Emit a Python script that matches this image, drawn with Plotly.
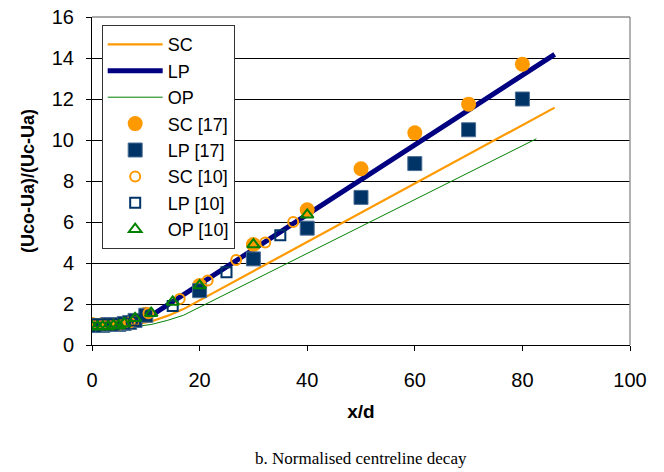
import plotly.graph_objects as go

# ---- Data ----
sc_line_x = [0, 8, 11, 14, 17, 86]
sc_line_y = [1.0, 1.0, 1.15, 1.42, 1.75, 11.58]
lp_line_x = [0, 6, 8, 10, 12, 86]
lp_line_y = [1.0, 1.0, 1.08, 1.3, 1.6, 14.18]
op_line_x = [0, 8, 11, 14, 17, 82.6]
op_line_y = [0.9, 0.9, 1.0, 1.2, 1.45, 10.06]

sc17_x = [0, 2, 4, 6, 8, 10, 20, 30, 40, 50, 60, 70, 80]
sc17_y = [1.0, 1.0, 1.0, 1.05, 1.2, 1.5, 2.9, 4.9, 6.6, 8.6, 10.35, 11.75, 13.7]
lp17_x = [0, 1, 2, 3, 4, 5, 6, 7, 8, 10, 20, 30, 40, 50, 60, 70, 80]
lp17_y = [0.95, 0.95, 0.95, 1.0, 1.0, 1.0, 1.05, 1.1, 1.2, 1.45, 2.65, 4.2, 5.7, 7.2, 8.85, 10.5, 12.0]
sc10_x = [0, 1, 2, 3, 4, 5, 6, 7, 8, 10.5, 16.3, 21.5, 26.8, 32.2, 37.4]
sc10_y = [1.0, 1.0, 1.0, 1.0, 1.0, 1.0, 1.05, 1.1, 1.2, 1.55, 2.25, 3.15, 4.15, 5.0, 6.0]
lp10_x = [0, 2, 4, 6, 8, 15, 25, 35]
lp10_y = [1.0, 1.0, 1.0, 1.05, 1.2, 1.9, 3.55, 5.35]
op10_x = [0, 1, 2, 3, 4, 5, 6, 8, 11, 15, 20, 30, 40]
op10_y = [0.9, 0.9, 0.9, 0.9, 0.95, 0.95, 1.05, 1.3, 1.55, 2.1, 2.9, 4.9, 6.35]

x_ticks = [0, 20, 40, 60, 80, 100]
y_ticks = [0, 2, 4, 6, 8, 10, 12, 14, 16]

ORANGE = "#FF9900"
NAVY = "#000080"
GREEN = "#008000"
DKBLUE = "#003366"
FONT = "Liberation Sans, Arial, sans-serif"

fig = go.Figure()
fig.add_trace(go.Scatter(x=sc_line_x, y=sc_line_y, mode="lines", name="SC",
                         line=dict(color=ORANGE, width=2.2)))
fig.add_trace(go.Scatter(x=lp_line_x, y=lp_line_y, mode="lines", name="LP",
                         line=dict(color=NAVY, width=5)))
fig.add_trace(go.Scatter(x=op_line_x, y=op_line_y, mode="lines", name="OP",
                         line=dict(color=GREEN, width=1)))
fig.add_trace(go.Scatter(x=sc17_x, y=sc17_y, mode="markers", name="SC [17]",
                         marker=dict(symbol="circle", size=15, color=ORANGE,
                                     line=dict(width=0))))
fig.add_trace(go.Scatter(x=lp17_x, y=lp17_y, mode="markers", name="LP [17]",
                         marker=dict(symbol="square", size=14, color=DKBLUE,
                                     line=dict(width=1, color="#4A6E94"))))
fig.add_trace(go.Scatter(x=sc10_x, y=sc10_y, mode="markers", name="SC [10]",
                         marker=dict(symbol="circle-open", size=10, color=ORANGE,
                                     line=dict(width=2, color=ORANGE))))
fig.add_trace(go.Scatter(x=lp10_x, y=lp10_y, mode="markers", name="LP [10]",
                         marker=dict(symbol="square-open", size=10, color=DKBLUE,
                                     line=dict(width=2, color=DKBLUE))))
fig.add_trace(go.Scatter(x=op10_x, y=op10_y, mode="markers", name="OP [10]",
                         marker=dict(symbol="triangle-up-open", size=11, color=GREEN,
                                     line=dict(width=2, color=GREEN))))

fig.update_layout(
    width=664, height=472,
    margin=dict(l=92, r=34, t=17, b=127, autoexpand=False),
    paper_bgcolor="white", plot_bgcolor="white",
    font=dict(family=FONT, size=20, color="black"),
    showlegend=True,
    legend=dict(x=0.018, y=0.975, xanchor="left", yanchor="top",
                bgcolor="white", bordercolor="#333333", borderwidth=1,
                font=dict(family=FONT, size=18, color="black"),
                itemwidth=55, tracegroupgap=0),
    xaxis=dict(range=[0, 100], tickvals=x_ticks, ticktext=[str(v) for v in x_ticks],
               showgrid=False, zeroline=False, showline=True, linecolor="black",
               linewidth=1, ticks="outside", ticklen=5, tickcolor="black",
               ticklabelstandoff=12, automargin=False,
               title=dict(text="<b>x/d</b>", font=dict(family=FONT, size=19), standoff=14)),
    yaxis=dict(range=[0, 16], tickvals=y_ticks, ticktext=[str(v) for v in y_ticks],
               showgrid=True, gridcolor="black", gridwidth=1,
               zeroline=False, showline=True, linecolor="black",
               linewidth=1, ticks="outside", ticklen=5, tickcolor="black",
               ticklabelstandoff=8, automargin=False,
               title=dict(text="<b>(Uco-Ua)/(Uc-Ua)</b>", font=dict(family=FONT, size=18),
                          standoff=12)),
    shapes=[dict(type="line", xref="paper", yref="paper", x0=1, x1=1, y0=0, y1=1,
                 line=dict(color="#999999", width=1.5)),
            dict(type="line", xref="paper", yref="paper", x0=0, x1=1, y0=1, y1=1,
                 line=dict(color="#555555", width=1))],
    annotations=[dict(text="b. Normalised centreline decay", xref="paper", yref="paper",
                      x=0.5, y=-0.345, xanchor="center", yanchor="middle",
                      showarrow=False,
                      font=dict(family="Liberation Serif, Times New Roman, serif",
                                size=17, color="black"))],
)

fig.write_html("out.html", config={"displayModeBar": False},
               post_script="document.body.style.margin='0';document.body.style.overflow='hidden';")
